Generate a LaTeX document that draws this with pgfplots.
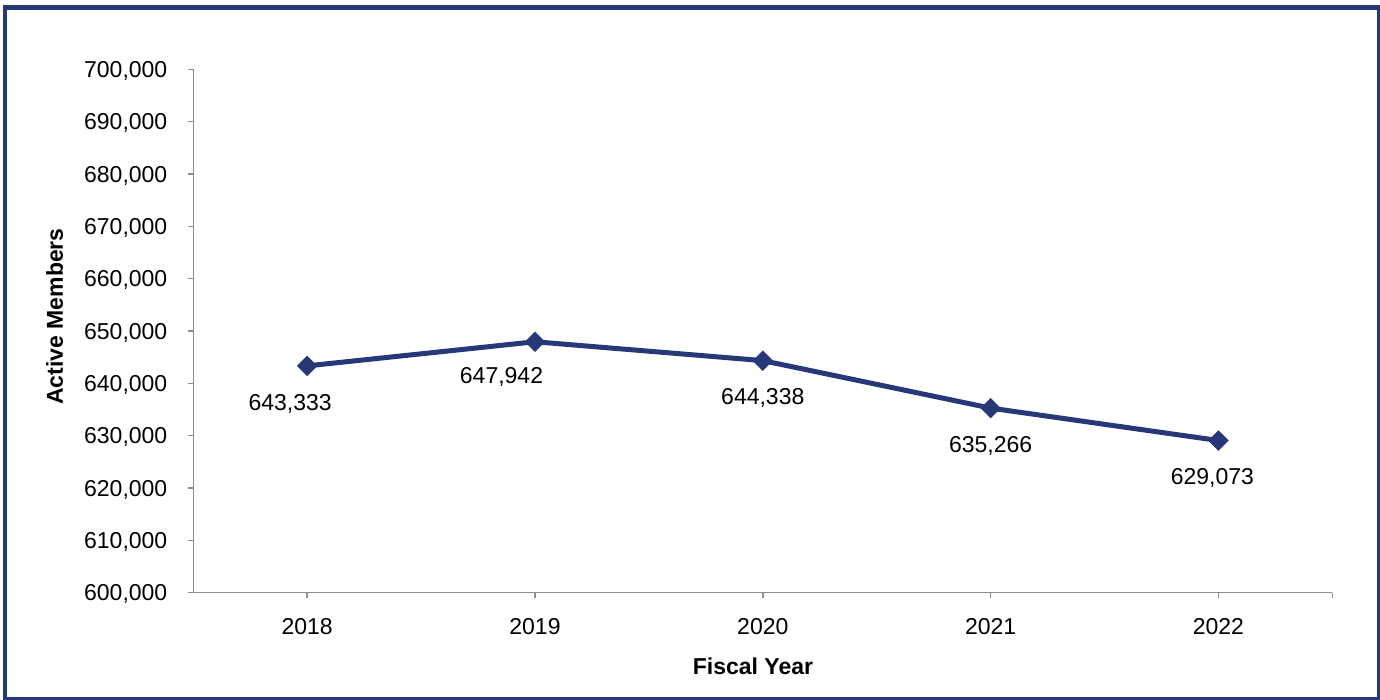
\documentclass[border=0pt]{standalone}
\usepackage{pgfplots}
\pgfplotsset{compat=1.18}
\usepackage{fontspec}
\setmainfont{Liberation Sans}
\definecolor{navy}{RGB}{38,56,120}
\definecolor{axgray}{RGB}{140,140,140}
\begin{document}
\fontsize{11.5pt}{13.8pt}\selectfont
\begin{tikzpicture}
\path[use as bounding box] (0,0) rectangle (690pt,350pt);
\draw[navy, line width=2.4pt] (2.5pt,346.25pt) rectangle (689.75pt,0.5pt);
\begin{axis}[
  at={(96.65pt,53.65pt)}, anchor=south west,
  scale only axis, width=569.5pt, height=261.7pt,
  xmin=-0.5, xmax=4.5, ymin=600000, ymax=700000,
  clip=false,
  axis lines*=left,
  axis line style={axgray, line width=0.75pt, -},
  xtick={0,1,2,3,4}, xticklabels={2018,2019,2020,2021,2022},
  extra x ticks={4.5}, extra x tick labels={},
  extra x tick style={tick style={axgray, line width=0.75pt}},
  ytick={600000,610000,...,700000},
  scaled y ticks=false,
  /pgf/number format/.cd, fixed, 1000 sep={,}, assume math mode=true, /pgfplots/.cd,
  tick align=outside, major tick length=2.5pt,
  tick style={axgray, line width=0.75pt},
  yticklabel style={anchor=base east, inner sep=0pt, xshift=-10.3pt, yshift=-4.1pt, font=\fontsize{11.5pt}{13.8pt}\selectfont},
  xticklabel style={anchor=base, inner sep=0pt, yshift=-18.65pt, font=\fontsize{11.5pt}{13.8pt}\selectfont},
  xlabel={\textbf{Fiscal Year}},
  ylabel={\textbf{Active Members}},
  xlabel style={at={(axis description cs:0.4914,0)}, anchor=base, inner sep=0pt, yshift=-41.15pt},
  ylabel style={at={(axis description cs:0,0.5277)}, rotate=0, anchor=base, inner sep=0pt, yshift=65.15pt},
]
\addplot[navy, line width=2.5pt, mark=square*, mark size=3.5pt,
  mark options={rotate=45, solid, fill=navy, draw=navy, line width=0.2pt}]
  coordinates {(0,643333)(1,647942)(2,644338)(3,635266)(4,629073)};
\node[anchor=base, inner sep=0pt, xshift=-8.5pt, yshift=-22.5pt] at (axis cs:0,643333) {643,333};
\node[anchor=base, inner sep=0pt, xshift=-16.75pt, yshift=-20.75pt] at (axis cs:1,647942) {647,942};
\node[anchor=base, inner sep=0pt, yshift=-22pt] at (axis cs:2,644338) {644,338};
\node[anchor=base, inner sep=0pt, yshift=-22pt] at (axis cs:3,635266) {635,266};
\node[anchor=base, inner sep=0pt, xshift=-3pt, yshift=-21.75pt] at (axis cs:4,629073) {629,073};
\end{axis}
\end{tikzpicture}
\end{document}
